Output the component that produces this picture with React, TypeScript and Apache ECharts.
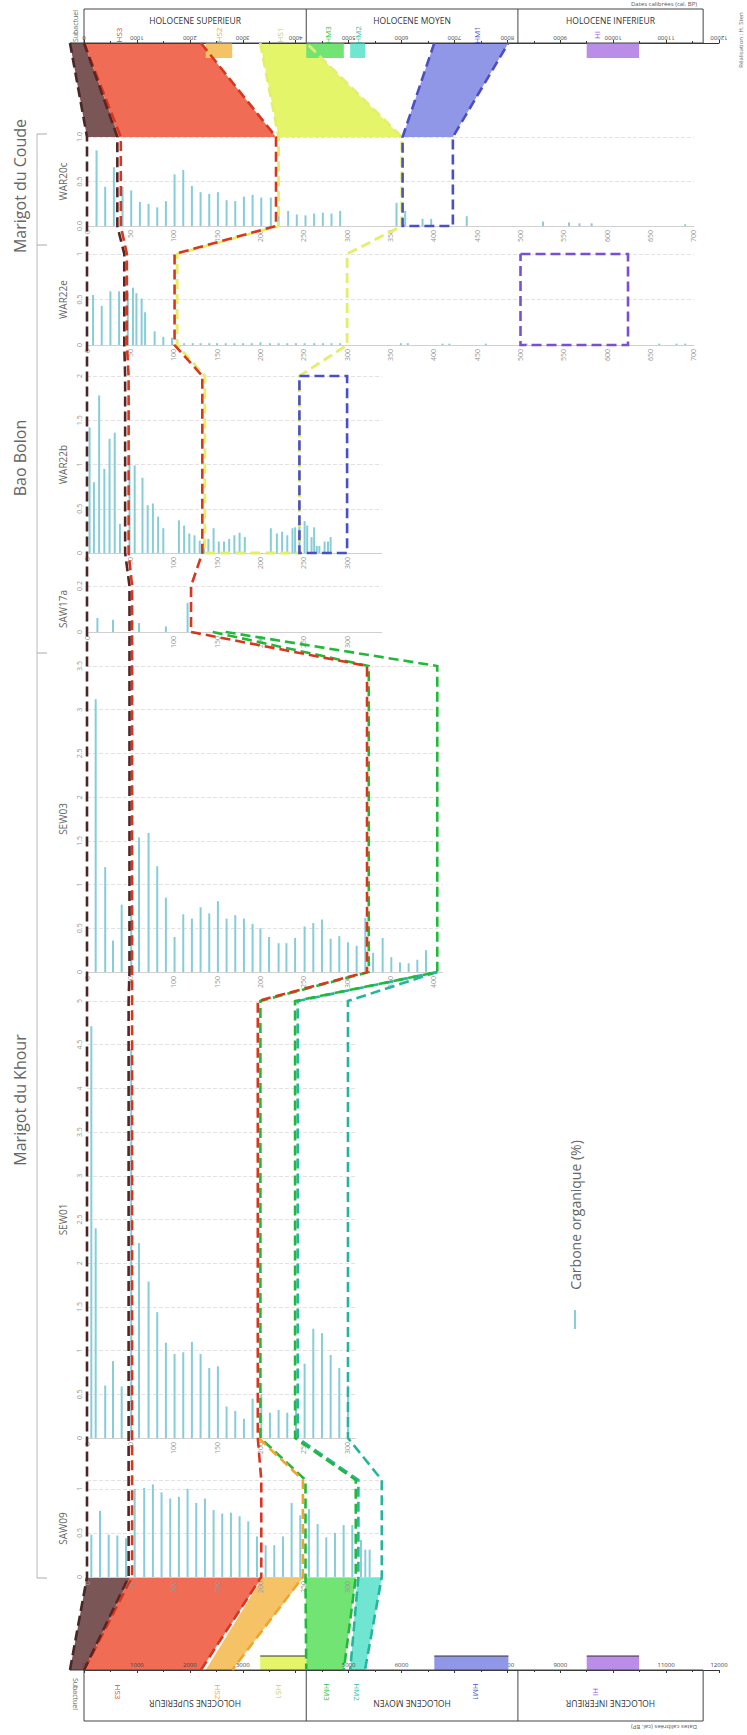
import React, { useEffect, useRef } from 'react';
import * as echarts from 'echarts';

type Pair = [number, number];
type Anchor = number[]; // [gridIndex (0-6 core, 7 top timeline, 8 bottom timeline), value, edge(1 top / 0 bottom)]

const FONT = "'Open Sans', 'DejaVu Sans', sans-serif";

// ---------------- cores ----------------
const coreNames = ['WAR20c', 'WAR22e', 'WAR22b', 'SAW17a', 'SEW03', 'SEW01', 'SAW09'];
const coreDepthMax = [700, 700, 340, 340, 410, 310, 340];
const coreCarbonMax = [1, 1, 2, 0.2, 3.5, 5, 1.1];
const coreCarbonStep = [0.5, 0.5, 0.5, 0.2, 0.5, 0.5, 0.5];
const coreLabelDecimals = [1, 0, 0, 0, 0, 0, 0];

// organic carbon (%) by depth (cm)
const carbonWAR20c: Pair[] = [[11, 0.85], [21, 0.44], [31, 0.66], [41, 0.44], [51, 0.4], [61, 0.27], [71, 0.25], [81, 0.21], [91, 0.28], [101, 0.58], [111, 0.63], [121, 0.45], [131, 0.38], [141, 0.36], [151, 0.38], [161, 0.29], [171, 0.28], [181, 0.33], [191, 0.35], [201, 0.32], [212, 0.32], [221, 0.22], [232, 0.17], [242, 0.13], [252, 0.12], [262, 0.14], [272, 0.15], [282, 0.14], [292, 0.17], [357, 0.26], [367, 0.17], [387, 0.08], [397, 0.08], [438, 0.11], [526, 0.05], [556, 0.04], [568, 0.03], [582, 0.03], [690, 0.02]];
const carbonWAR22e: Pair[] = [[7, 0.55], [17, 0.43], [27, 0.59], [37, 0.59], [47, 0.58], [53, 0.63], [57, 0.57], [63, 0.51], [67, 0.36], [78, 0.15], [88, 0.09], [98, 0.08], [112, 0.02], [122, 0.02], [131, 0.02], [141, 0.02], [150, 0.02], [160, 0.02], [170, 0.02], [180, 0.02], [190, 0.02], [200, 0.03], [211, 0.02], [221, 0.02], [231, 0.02], [241, 0.02], [251, 0.02], [262, 0.02], [272, 0.02], [282, 0.02], [292, 0.02], [362, 0.02], [370, 0.02], [410, 0.015], [418, 0.015], [460, 0.015], [507, 0.015], [660, 0.015], [680, 0.015], [690, 0.015]];
const carbonWAR22b: Pair[] = [[3, 1.42], [8, 0.8], [14, 1.78], [20, 0.95], [26, 1.29], [32, 1.36], [38, 0.33], [49, 1.11], [55, 0.99], [64, 0.85], [70, 0.54], [76, 0.56], [82, 0.41], [88, 0.28], [106, 0.37], [112, 0.31], [118, 0.22], [124, 0.2], [130, 0.14], [135, 0.14], [140, 0.16], [146, 0.28], [152, 0.13], [158, 0.13], [164, 0.16], [170, 0.2], [176, 0.23], [182, 0.18], [212, 0.28], [219, 0.22], [225, 0.24], [231, 0.2], [237, 0.28], [240, 0.29], [245, 0.35], [251, 0.36], [254, 0.31], [259, 0.18], [262, 0.29], [265, 0.08], [268, 0.08], [274, 0.13], [278, 0.13], [281, 0.18]];
const carbonSAW17a: Pair[] = [[12, 0.061], [30, 0.053], [60, 0.039], [91, 0.024], [116, 0.127]];
const carbonSEW03: Pair[] = [[10, 3.12], [21, 1.2], [30, 0.36], [40, 0.77], [51, 0.67], [60, 1.54], [71, 1.59], [81, 1.21], [91, 0.85], [101, 0.4], [111, 0.66], [121, 0.61], [131, 0.74], [141, 0.67], [151, 0.81], [161, 0.61], [171, 0.65], [181, 0.61], [191, 0.55], [200, 0.5], [210, 0.4], [221, 0.33], [230, 0.33], [240, 0.39], [251, 0.52], [261, 0.56], [271, 0.6], [281, 0.38], [291, 0.41], [301, 0.34], [311, 0.3], [321, 0.62], [330, 0.22], [341, 0.39], [351, 0.17], [361, 0.11], [371, 0.1], [381, 0.14], [391, 0.25]];
const carbonSEW01: Pair[] = [[5, 4.71], [10, 2.4], [21, 0.6], [30, 0.88], [40, 0.59], [51, 4.45], [60, 2.23], [71, 1.79], [81, 1.44], [91, 1.09], [101, 0.96], [111, 0.98], [121, 1.1], [131, 0.96], [141, 0.8], [151, 0.82], [161, 0.36], [171, 0.31], [181, 0.22], [191, 0.45], [201, 0.5], [211, 0.29], [221, 0.32], [231, 0.29], [241, 0.45], [251, 0.85], [261, 1.25], [271, 1.2], [281, 0.95], [291, 0.8], [301, 0.6]];
const carbonSAW09: Pair[] = [[5, 0.48], [15, 0.75], [25, 0.48], [35, 0.47], [45, 0.44], [55, 1.0], [66, 1.01], [76, 1.05], [86, 0.96], [96, 0.89], [106, 0.91], [116, 1.0], [126, 0.84], [136, 0.89], [146, 0.76], [156, 0.72], [166, 0.73], [176, 0.69], [186, 0.63], [196, 0.46], [206, 0.36], [216, 0.36], [226, 0.46], [236, 0.84], [246, 0.7], [256, 0.77], [266, 0.6], [276, 0.45], [286, 0.5], [296, 0.59], [306, 0.59], [316, 0.42], [321, 0.31], [326, 0.31]];
const coreCarbon: Pair[][] = [carbonWAR20c, carbonWAR22e, carbonWAR22b, carbonSAW17a, carbonSEW03, carbonSEW01, carbonSAW09];

// ---------------- timeline ----------------
const timeTicks = { min: 0, max: 12000, step: 1000 };
const epochNames = ['HOLOCENE SUPERIEUR', 'HOLOCENE MOYEN', 'HOLOCENE INFERIEUR'];
const epochBounds = [0, 4200, 8200, 11700];
const subactuelStart = -265;
const phaseNames = ['HS3', 'HS2', 'HS1', 'HM3', 'HM2', 'HM1', 'HI'];
const phaseStart = [0, 2300, 3330, 4200, 5030, 6620, 9500];
const phaseEnd = [2210, 2800, 4200, 4910, 5310, 8020, 10490];
const phaseLabelYr = [650, 2550, 3700, 4600, 5170, 7420, 9680];
const topBarPhases = [1, 3, 4, 6];
const bottomBarPhases = [2, 5, 6];

// ---------------- correlations (depth in cm / years cal BP) ----------------
const polySubTop: Anchor[] = [[7, subactuelStart], [7, 0], [0, 37, 1], [0, 0, 1]];
const polyHS3Top: Anchor[] = [[7, 0], [7, 2210], [0, 218, 1], [0, 37, 1]];
const polyHS1Top: Anchor[] = [[7, 3330], [7, 4200], [0, 363, 1], [0, 221, 1]];
const polyHM1Top: Anchor[] = [[7, 6620], [7, 8020], [0, 422, 1], [0, 364, 1]];
const polySubBot: Anchor[] = [[6, 0, 0], [6, 50, 0], [8, 0], [8, subactuelStart]];
const polyHS3Bot: Anchor[] = [[6, 50, 0], [6, 202, 0], [8, 2210], [8, 0]];
const polyHS2Bot: Anchor[] = [[6, 203, 0], [6, 250, 0], [8, 2800], [8, 2300]];
const polyHM3Bot: Anchor[] = [[6, 252, 0], [6, 310, 0], [8, 4910], [8, 4200]];
const polyHM2Bot: Anchor[] = [[6, 312, 0], [6, 340, 0], [8, 5310], [8, 5030]];

const lineSubTop: Anchor[] = [[7, subactuelStart], [0, 0, 1], [6, 0, 0], [8, subactuelStart]];
const lineSubBase: Anchor[] = [[7, 0], [0, 35, 1], [0, 35, 0], [1, 43, 1], [1, 43, 0], [2, 44, 1], [2, 44, 0], [3, 49, 1], [3, 49, 0], [4, 49, 1], [4, 49, 0], [5, 48, 1], [5, 48, 0], [6, 48, 1], [6, 48, 0], [8, 0]];
const lineHS3Top: Anchor[] = [[7, 0], [0, 39, 1], [0, 39, 0], [1, 46, 1], [1, 46, 0], [2, 48, 1], [2, 48, 0], [3, 52, 1], [3, 52, 0], [4, 52, 1], [4, 52, 0], [5, 52, 1], [5, 52, 0], [6, 52, 1], [6, 52, 0], [8, 0]];
const lineHS3Base: Anchor[] = [[7, 2210], [0, 218, 1], [0, 218, 0], [1, 101, 1], [1, 101, 0], [2, 133, 1], [2, 133, 0], [3, 120, 1], [3, 120, 0], [4, 323, 1], [4, 323, 0], [5, 197, 1], [5, 197, 0], [6, 201, 1], [6, 201, 0], [8, 2210]];
const lineHS1: Anchor[] = [[7, 3330], [0, 221, 1], [0, 221, 0], [1, 104, 1], [1, 104, 0], [2, 136, 1], [2, 136, 0], [2, 245, 0], [2, 245, 1], [1, 300, 0], [1, 300, 1], [0, 363, 0], [0, 363, 1], [7, 4200]];
const lineHM1: Anchor[] = [[7, 6620], [0, 364, 1], [0, 364, 0], [0, 422, 0], [0, 422, 1], [7, 8020]];
const boxHM1: Anchor[] = [[2, 245, 1], [2, 300, 1], [2, 300, 0], [2, 245, 0], [2, 245, 1]];
const boxHI: Anchor[] = [[1, 500, 1], [1, 624, 1], [1, 624, 0], [1, 500, 0], [1, 500, 1]];
const lineHS2: Anchor[] = [[5, 198, 0], [6, 249, 1], [6, 249, 0], [8, 2800]];
const lineHM3a: Anchor[] = [[3, 145, 0], [4, 325, 1], [4, 325, 0], [5, 200, 1], [5, 200, 0], [6, 252, 1], [6, 252, 0], [8, 4200]];
const lineHM3b: Anchor[] = [[3, 160, 0], [4, 404, 1], [4, 404, 0], [5, 240, 1], [5, 240, 0], [6, 310, 1], [6, 310, 0], [8, 4910]];
const lineHM2a: Anchor[] = [[4, 404, 0], [5, 243, 1], [5, 243, 0], [6, 313, 1], [6, 313, 0], [8, 5030]];
const lineHM2b: Anchor[] = [[4, 404, 0], [5, 301, 1], [5, 301, 0], [6, 340, 1], [6, 340, 0], [8, 5310]];

// ---------------- styles & layout ----------------
const BAR_COLOR = '#86cdd8';
const phaseFill = ['#f06c55', '#f6c266', '#e5f56a', '#72e474', '#70e6d2', '#8f97e6', '#ba8de8'];
const phaseInk = ['#e0452a', '#f0a830', '#c9d245', '#2fbf44', '#2bbfa5', '#4f57cf', '#9361df'];
const SUB_FILL = '#7b5656';
const coreTopPx = [137, 254, 376, 586, 666, 1001, 1480];
const coreBottomPx = [226, 345, 553, 632, 972, 1438, 1577];
const PANEL_LEFT = 87;
const PX_PER_CM = 0.867;
const TIME_LEFT = 84;
const TIME_WIDTH = 635;
const TOP_AXIS_Y = 43;
const BOTTOM_AXIS_Y = 1670;
const sites = ['Marigot du Coude', 'Bao Bolon', 'Marigot du Khour'];
const siteLabelY = [186, 458, 1100];
const bracketStops = [134, 245, 653, 1578];
const DASH = [10, 5];

function stepFormatter(step: number, dec: number) {
  return (v: number) => {
    const k = v / step;
    if (Math.abs(k - Math.round(k)) > 1e-6) return '';
    return dec ? v.toFixed(dec) : String(+v.toFixed(2));
  };
}

function baseOption(): any {
  const grids: any[] = coreNames.map((_, i) => ({
    left: PANEL_LEFT,
    top: coreTopPx[i],
    width: coreDepthMax[i] * PX_PER_CM,
    height: coreBottomPx[i] - coreTopPx[i],
  }));
  grids.push({ left: TIME_LEFT, top: TOP_AXIS_Y, width: TIME_WIDTH, height: 15 });
  grids.push({ left: TIME_LEFT, top: BOTTOM_AXIS_Y - 14, width: TIME_WIDTH, height: 14 });

  const xAxes: any[] = coreNames.map((_, i) => ({
    gridIndex: i,
    type: 'value',
    min: 0,
    max: coreDepthMax[i],
    interval: 50,
    axisLine: { show: true, lineStyle: { color: '#d0d0d0' } },
    axisTick: { show: false },
    splitLine: { show: false },
    axisLabel: { rotate: 90, fontSize: 7, color: '#999', margin: 4, fontFamily: FONT, formatter: stepFormatter(50, 0) },
  }));
  const timeAxis = (gi: number, pos: string, rot: number, inside: boolean) => ({
    gridIndex: gi,
    type: 'value',
    position: pos,
    min: timeTicks.min,
    max: timeTicks.max,
    interval: timeTicks.step,
    axisLine: { show: true, onZero: false, lineStyle: { color: '#333', width: 1 } },
    axisTick: { show: true, length: 3, lineStyle: { color: '#333' } },
    minorTick: { show: true, splitNumber: 2, length: 2, lineStyle: { color: '#333' } },
    splitLine: { show: false },
    axisLabel: { rotate: rot, inside, fontSize: 6, color: '#444', margin: 2, fontFamily: FONT, formatter: (v: number) => String(v) },
  });
  xAxes.push(timeAxis(7, 'top', 180, false));
  xAxes.push(timeAxis(8, 'bottom', 0, true));

  const yAxes: any[] = coreNames.map((n, i) => ({
    gridIndex: i,
    type: 'value',
    min: 0,
    max: coreCarbonMax[i],
    interval: coreCarbonStep[i],
    name: n,
    nameLocation: 'middle',
    nameRotate: 90,
    nameGap: 19,
    nameTextStyle: { fontSize: 10, color: '#666', fontFamily: FONT },
    axisLine: { show: false },
    axisTick: { show: false },
    splitLine: { show: true, lineStyle: { type: 'dashed', color: '#e2e2e2', width: 1 } },
    axisLabel: { rotate: 90, fontSize: 7, color: '#999', margin: 4, fontFamily: FONT, formatter: stepFormatter(coreCarbonStep[i], coreLabelDecimals[i]) },
  }));
  yAxes.push({ gridIndex: 7, type: 'value', min: 0, max: 1, show: false });
  yAxes.push({ gridIndex: 8, type: 'value', min: 0, max: 1, show: false });

  const series: any[] = coreNames.map((n, i) => ({
    type: 'bar',
    name: 'Carbone organique (%)',
    xAxisIndex: i,
    yAxisIndex: i,
    data: coreCarbon[i],
    barWidth: 2,
    itemStyle: { color: BAR_COLOR },
    silent: true,
  }));
  const phaseBar = (gi: number, phases: number[], outlined: boolean) => ({
    type: 'custom',
    xAxisIndex: gi,
    yAxisIndex: gi,
    silent: true,
    data: phases.map((p) => [phaseStart[p], phaseEnd[p], p]),
    renderItem: (_p: any, api: any) => {
      const a = api.coord([api.value(0), 1]);
      const b = api.coord([api.value(1), 0]);
      const p = api.value(2);
      const children: any[] = [
        { type: 'rect', shape: { x: a[0], y: a[1], width: b[0] - a[0], height: b[1] - a[1] }, style: { fill: phaseFill[p] } },
      ];
      if (outlined) {
        children.push({ type: 'line', shape: { x1: a[0], y1: a[1], x2: b[0], y2: a[1] }, style: { stroke: '#333', lineWidth: 1 } });
      }
      return { type: 'group', children };
    },
  });
  series.push(phaseBar(7, topBarPhases, false));
  series.push(phaseBar(8, bottomBarPhases, true));

  return {
    animation: false,
    backgroundColor: '#ffffff',
    textStyle: { fontFamily: FONT },
    grid: grids,
    xAxis: xAxes,
    yAxis: yAxes,
    series,
  };
}

function buildGraphics(chart: any): any[] {
  const toPx = (a: Anchor): number[] => {
    const g = a[0];
    if (g === 7) return chart.convertToPixel({ gridIndex: 7 }, [a[1], 1]);
    if (g === 8) return chart.convertToPixel({ gridIndex: 8 }, [a[1], 0]);
    return chart.convertToPixel({ gridIndex: g }, [a[1], a[2] ? coreCarbonMax[g] : 0]);
  };
  const els: any[] = [];
  const poly = (pts: Anchor[], fill: string) =>
    els.push({ type: 'polygon', z: -1, silent: true, shape: { points: pts.map(toPx) }, style: { fill } });
  const dash = (pts: Anchor[], color: string, width = 2.6) =>
    els.push({ type: 'polyline', z: 50, silent: true, shape: { points: pts.map(toPx) }, style: { stroke: color, lineWidth: width, lineDash: DASH, fill: null } });

  poly(polySubTop, SUB_FILL);
  poly(polyHS3Top, phaseFill[0]);
  poly(polyHS1Top, phaseFill[2]);
  poly(polyHM1Top, phaseFill[5]);
  poly(polySubBot, SUB_FILL);
  poly(polyHS3Bot, phaseFill[0]);
  poly(polyHS2Bot, phaseFill[1]);
  poly(polyHM3Bot, phaseFill[3]);
  poly(polyHM2Bot, phaseFill[4]);

  dash(lineHS1, '#e4ee6a', 2.8);
  dash(lineHM1, '#4a4fc6');
  dash(boxHM1, '#4a4fc6');
  dash(boxHI, '#7b4fd4');
  dash(lineHM2b, '#25b59c');
  dash(lineHM2a, '#25b59c');
  dash(lineHM3b, '#22b83a');
  dash(lineHM3a, '#22b83a');
  dash(lineHS2, '#f0a528');
  dash(lineHS3Base, '#d9361e');
  dash(lineHS3Top, '#d9361e');
  dash(lineSubBase, '#5a2424');
  dash(lineSubTop, '#4a2626');

  // timeline boxes
  const xs = epochBounds.map((b) => chart.convertToPixel({ gridIndex: 7 }, [b, 1])[0]);
  const xSub = chart.convertToPixel({ gridIndex: 7 }, [subactuelStart, 1])[0];
  const boxes = [
    { y0: 9, y1: TOP_AXIS_Y, textY: 20, rot: 0, subY: 26, subRot: Math.PI / 2, phaseY: 35, phaseRot: Math.PI / 2, axisY: TOP_AXIS_Y },
    { y0: BOTTOM_AXIS_Y, y1: 1721, textY: 1703, rot: Math.PI, subY: 1694, subRot: -Math.PI / 2, phaseY: 1692, phaseRot: -Math.PI / 2, axisY: BOTTOM_AXIS_Y },
  ];
  boxes.forEach((b, bi) => {
    els.push({ type: 'rect', z: 5, silent: true, shape: { x: xs[0], y: b.y0, width: xs[3] - xs[0], height: b.y1 - b.y0 }, style: { fill: 'none', stroke: '#444', lineWidth: 1 } });
    [1, 2].forEach((k) => els.push({ type: 'line', z: 5, silent: true, shape: { x1: xs[k], y1: b.y0, x2: xs[k], y2: b.y1 }, style: { stroke: '#444', lineWidth: 1 } }));
    els.push({ type: 'line', z: 5, silent: true, shape: { x1: xSub, y1: b.axisY, x2: xs[0], y2: b.axisY }, style: { stroke: '#333', lineWidth: 1 } });
    epochNames.forEach((n, i) => {
      els.push({ type: 'text', z: 6, silent: true, x: (xs[i] + xs[i + 1]) / 2, y: b.textY, rotation: b.rot, style: { text: n, fontSize: 8.5, fill: '#333', align: 'center', verticalAlign: 'middle', fontFamily: FONT } });
    });
    els.push({ type: 'text', z: 6, silent: true, x: (xSub + xs[0]) / 2 - 1, y: b.subY, rotation: b.subRot, style: { text: 'Subactuel', fontSize: 7, fill: '#666', align: 'center', verticalAlign: 'middle', fontFamily: FONT } });
    phaseNames.forEach((n, i) => {
      const x = chart.convertToPixel({ gridIndex: bi === 0 ? 7 : 8 }, [phaseLabelYr[i], 0])[0];
      els.push({ type: 'text', z: 6, silent: true, x, y: b.phaseY, rotation: b.phaseRot, style: { text: n, fontSize: 8, fill: phaseInk[i], align: 'center', verticalAlign: 'middle', fontFamily: FONT } });
    });
  });
  els.push({ type: 'text', z: 6, silent: true, x: 664, y: 4, style: { text: 'Dates calibrées (cal. BP)', fontSize: 6, fill: '#555', align: 'center', verticalAlign: 'middle', fontFamily: FONT } });
  els.push({ type: 'text', z: 6, silent: true, x: 664, y: 1727, rotation: Math.PI, style: { text: 'Dates calibrées (cal. BP)', fontSize: 6, fill: '#555', align: 'center', verticalAlign: 'middle', fontFamily: FONT } });
  els.push({ type: 'text', z: 6, silent: true, x: 741, y: 40, rotation: Math.PI / 2, style: { text: 'Réalisation : H. Sten', fontSize: 6, fill: '#666', align: 'center', verticalAlign: 'middle', fontFamily: FONT } });

  // site brackets
  els.push({ type: 'line', z: 5, silent: true, shape: { x1: 37, y1: bracketStops[0], x2: 37, y2: bracketStops[bracketStops.length - 1] }, style: { stroke: '#bbb', lineWidth: 1 } });
  bracketStops.forEach((y) => els.push({ type: 'line', z: 5, silent: true, shape: { x1: 37, y1: y, x2: 47, y2: y }, style: { stroke: '#aaa', lineWidth: 1 } }));
  sites.forEach((s, i) => {
    els.push({ type: 'text', z: 6, silent: true, x: 20, y: siteLabelY[i], rotation: Math.PI / 2, style: { text: s, fontSize: 16, fill: '#666', align: 'center', verticalAlign: 'middle', fontFamily: FONT } });
  });

  // legend
  els.push({ type: 'text', z: 6, silent: true, x: 575, y: 1215, rotation: Math.PI / 2, style: { text: 'Carbone organique (%)', fontSize: 14, fill: '#666', align: 'center', verticalAlign: 'middle', fontFamily: FONT } });
  els.push({ type: 'line', z: 6, silent: true, shape: { x1: 575, y1: 1310, x2: 575, y2: 1329 }, style: { stroke: BAR_COLOR, lineWidth: 2 } });
  return els;
}

export default function App() {
  const ref = useRef<HTMLDivElement>(null);
  useEffect(() => {
    document.body.style.margin = '0';
    const chart = echarts.init(ref.current as HTMLDivElement, null, { renderer: 'svg' });
    chart.setOption(baseOption());
    chart.setOption({ graphic: { elements: buildGraphics(chart) } });
    return () => chart.dispose();
  }, []);
  return <div ref={ref} style={{ width: 747, height: 1735 }} />;
}
